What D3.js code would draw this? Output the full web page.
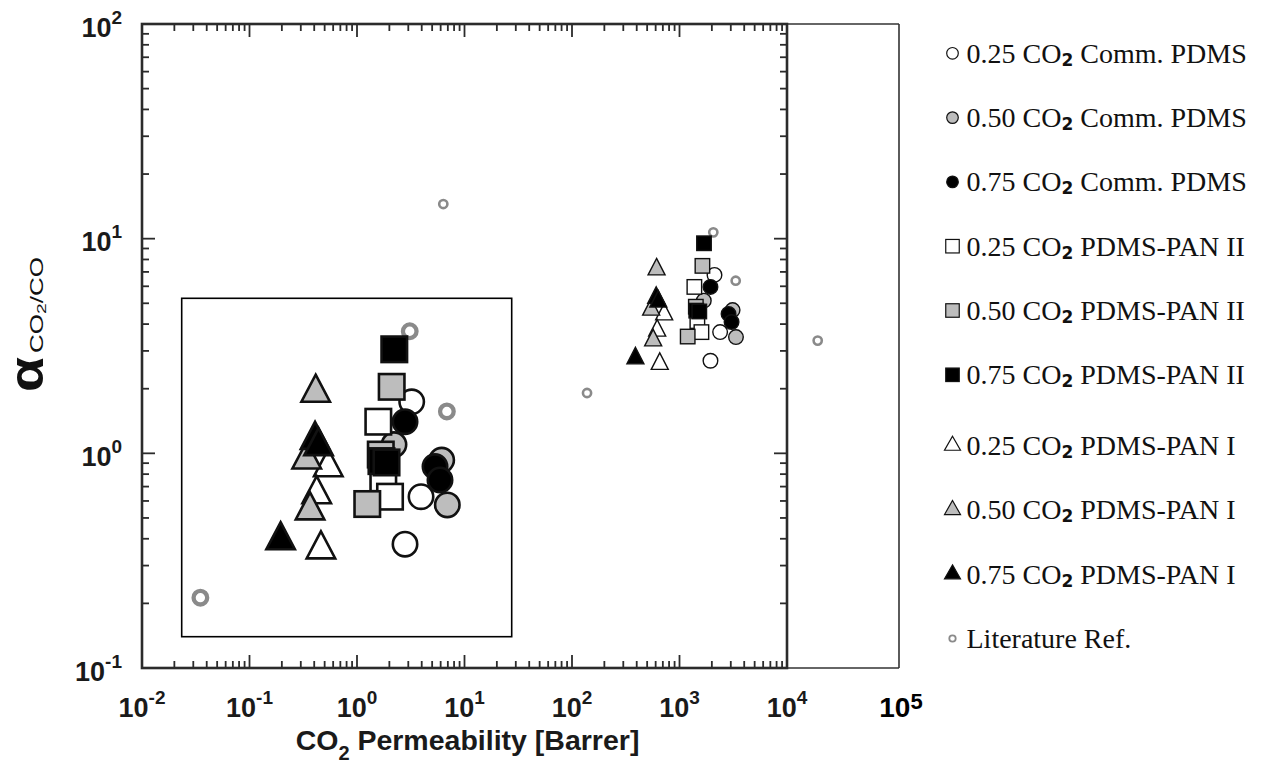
<!DOCTYPE html>
<html>
<head>
<meta charset="utf-8">
<script src="https://cdn.jsdelivr.net/npm/d3@7"></script>
<style>
  html, body { margin: 0; padding: 0; background: #fff; }
  svg { display: block; }
</style>
</head>
<body>
<svg id="chart" width="1265" height="771"></svg>
<script>
// ---- Data: CO2 permeability [Barrer] and CO2/CO selectivity ----
const comm025X = [2116, 2387, 1941];
const comm025Y = [6.78, 3.67, 2.70];
const comm050X = [1683, 3118, 3352];
const comm050Y = [5.14, 4.65, 3.48];
const comm075X = [1941, 2860, 3050];
const comm075Y = [5.96, 4.46, 4.09];
const panII025X = [1375, 1466, 1599];
const panII025Y = [5.96, 4.13, 3.67];
const panII050X = [1634, 1419, 1192];
const panII050Y = [7.47, 4.82, 3.50];
const panII075X = [1690, 1432, 1528];
const panII075Y = [9.52, 4.62, 4.58];
const panI025X = [720, 620, 655];
const panI025Y = [4.44, 3.73, 2.61];
const panI050X = [612, 545, 569];
const panI050Y = [7.19, 4.67, 3.36];
const panI075X = [607, 635, 389];
const panI075Y = [5.30, 5.09, 2.77];
const litX = [6.35, 138, 2063, 3333, 19300];
const litY = [14.5, 1.91, 10.7, 6.37, 3.35];

// legend text is split around the CO2 subscript
const seriesPrefix = ["0.25 CO", "0.50 CO", "0.75 CO", "0.25 CO", "0.50 CO", "0.75 CO", "0.25 CO", "0.50 CO", "0.75 CO", "Literature Ref."];
const seriesSuffix = [" Comm. PDMS", " Comm. PDMS", " Comm. PDMS",
  " PDMS-PAN II", " PDMS-PAN II", " PDMS-PAN II",
  " PDMS-PAN I", " PDMS-PAN I", " PDMS-PAN I", ""];
const seriesShapes = ["circle","circle","circle","square","square","square","triangle","triangle","triangle","ring"];
const seriesTones = ["open","gray","black","open","gray","black","open","gray","black","lit"];
const seriesX = [comm025X, comm050X, comm075X, panII025X, panII050X, panII075X, panI025X, panI050X, panI075X, litX];
const seriesY = [comm025Y, comm050Y, comm075Y, panII025Y, panII050Y, panII075Y, panI025Y, panI050Y, panI075Y, litY];

// axis decades
const xDecades = [-2, -1, 0, 1, 2, 3, 4];
const yDecades = [-1, 0, 1, 2];

// zoomed view window (permeability, selectivity)
const zoomXDomain = [108.4, 7702];
const zoomYDomain = [1.484, 13.24];

// ---- Styling ----
const toneFill = { open: "#ffffff", gray: "#bdbdbd", black: "#000000" };
const ink = "#111";
const litColor = "#8a8a8a";
const axisColor = "#2b2b2b";

const svg = d3.select("#chart");

// ---- Scales ----
const x = d3.scaleLog().domain([1e-2, 1e4]).range([142, 787]);
const y = d3.scaleLog().domain([1e-1, 1e2]).range([668, 24]);
const zx = d3.scaleLog().domain(zoomXDomain).range([181.7, 511.7]);
const zy = d3.scaleLog().domain(zoomYDomain).range([636.7, 298.3]);

// ---- Marker painter ----
function drawMarker(g, shape, tone, cx, cy, s) {
  if (shape === "ring") {
    g.append("circle").attr("cx", cx).attr("cy", cy).attr("r", s.ringR)
      .attr("fill", "none").attr("stroke", litColor).attr("stroke-width", s.ringW);
    return;
  }
  const fill = toneFill[tone];
  if (shape === "circle") {
    g.append("circle").attr("cx", cx).attr("cy", cy).attr("r", s.r)
      .attr("fill", fill).attr("stroke", ink).attr("stroke-width", s.sw);
  } else if (shape === "square") {
    g.append("rect").attr("x", cx - s.sq / 2).attr("y", cy - s.sq / 2)
      .attr("width", s.sq).attr("height", s.sq)
      .attr("fill", fill).attr("stroke", ink).attr("stroke-width", s.sw);
  } else if (shape === "triangle") {
    const p = d3.path();
    p.moveTo(cx, cy - 2 * s.th / 3);
    p.lineTo(cx + s.tw / 2, cy + s.th / 3);
    p.lineTo(cx - s.tw / 2, cy + s.th / 3);
    p.closePath();
    g.append("path").attr("d", p.toString())
      .attr("fill", fill).attr("stroke", ink).attr("stroke-width", s.sw)
      .attr("stroke-linejoin", "miter");
  }
}

const mainSize = { sq: 14.5, r: 7.3, tw: 17, th: 16.5, sw: 1.4, ringR: 4.1, ringW: 2.6 };
const zoomSize = { sq: 25.5, r: 12.2, tw: 28.5, th: 27, sw: 2.6, ringR: 6.8, ringW: 4.3 };
const legendSize = { sq: 13.5, r: 5.8, tw: 16, th: 14, sw: 1.2, ringR: 3.2, ringW: 1.8 };

// ---- Frame extension to 10^5 ----
const xRightEdge = x(1e4) + (x(1e4) - x(1e3)) + 4.5;
const frame = svg.append("g").attr("stroke", "#333").attr("stroke-width", 1.6).attr("fill", "none");
frame.append("line").attr("x1", x(1e4)).attr("x2", xRightEdge).attr("y1", y(1e2)).attr("y2", y(1e2));
frame.append("line").attr("x1", xRightEdge).attr("x2", xRightEdge).attr("y1", y(1e2)).attr("y2", y(1e-1));
frame.append("line").attr("x1", x(1e4)).attr("x2", xRightEdge).attr("y1", y(1e-1)).attr("y2", y(1e-1));

// ---- Ticks (inward) ----
const isMajor = v => Math.abs(Math.log10(v) - Math.round(Math.log10(v))) < 1e-6;
const tickG = svg.append("g").attr("stroke", axisColor).attr("stroke-width", 1.8);
x.ticks().forEach(v => {
  if (v <= 1e-2 * 1.0001 || v >= 1e4 * 0.9999) return;
  const len = isMajor(v) ? 13 : 7;
  const px = x(v);
  tickG.append("line").attr("x1", px).attr("x2", px).attr("y1", y(1e-1)).attr("y2", y(1e-1) - len);
  tickG.append("line").attr("x1", px).attr("x2", px).attr("y1", y(1e2)).attr("y2", y(1e2) + len);
});
y.ticks().forEach(v => {
  if (v <= 1e-1 * 1.0001 || v >= 1e2 * 0.9999) return;
  const len = isMajor(v) ? 13 : 7;
  const py = y(v);
  tickG.append("line").attr("x1", x(1e-2)).attr("x2", x(1e-2) + len).attr("y1", py).attr("y2", py);
  tickG.append("line").attr("x1", x(1e4)).attr("x2", x(1e4) - len).attr("y1", py).attr("y2", py);
});

// ---- Axis box ----
svg.append("rect")
  .attr("x", x(1e-2)).attr("y", y(1e2))
  .attr("width", x(1e4) - x(1e-2)).attr("height", y(1e-1) - y(1e2))
  .attr("fill", "none").attr("stroke", axisColor).attr("stroke-width", 2.6);

// ---- Tick labels ----
const labelFont = "'Liberation Sans', Arial, Helvetica, sans-serif";
const xl = svg.append("g").attr("font-family", labelFont).attr("font-weight", "bold")
  .attr("fill", "#1a1a1a");
xDecades.forEach(e => {
  const t = xl.append("text").attr("x", x(Math.pow(10, e))).attr("y", 717)
    .attr("text-anchor", "middle").attr("font-size", 27);
  t.append("tspan").text("10");
  t.append("tspan").attr("font-size", 19).attr("dy", -13).text(String(e));
});
// 10^5 label at the extended frame edge
{
  const t = svg.append("text").attr("x", xRightEdge + 2).attr("y", 717)
    .attr("text-anchor", "middle").attr("font-family", labelFont).attr("font-weight", "bold")
    .attr("font-size", 28).attr("fill", "#000");
  t.append("tspan").text("10");
  t.append("tspan").attr("font-size", 22).attr("dy", -8).text("5");
}
const yl = svg.append("g").attr("font-family", labelFont).attr("font-weight", "bold")
  .attr("fill", "#1a1a1a");
yDecades.forEach(e => {
  const t = yl.append("text").attr("x", 122).attr("y", y(Math.pow(10, e)) + 12.5)
    .attr("text-anchor", "end").attr("font-size", 27);
  t.append("tspan").text("10");
  t.append("tspan").attr("font-size", 19).attr("dy", -13).text(String(e));
});

// ---- Axis titles ----
{
  const t = svg.append("text").attr("x", 467.5).attr("y", 750)
    .attr("text-anchor", "middle").attr("font-family", labelFont).attr("font-weight", "bold")
    .attr("font-size", 28.5).attr("fill", "#1a1a1a");
  t.append("tspan").text("CO");
  t.append("tspan").attr("font-size", 20).attr("dy", 10).text("2");
  t.append("tspan").attr("dy", -10).text(" Permeability [Barrer]");
}
{
  const g = svg.append("g").attr("transform", "translate(43,324.5) rotate(-90)");
  g.append("text").attr("x", -67.5).attr("y", 0)
    .attr("font-family", labelFont).attr("font-weight", "bold").attr("font-size", 48)
    .attr("textLength", 35).attr("lengthAdjust", "spacingAndGlyphs")
    .attr("fill", "#111").text("α");
  const s = g.append("text").attr("x", -28.5).attr("y", 0)
    .attr("font-family", labelFont).attr("font-size", 17.5)
    .attr("textLength", 96).attr("lengthAdjust", "spacingAndGlyphs").attr("fill", "#111");
  s.append("tspan").text("CO");
  s.append("tspan").attr("font-size", 13).attr("dy", 3).text("2");
  s.append("tspan").attr("dy", -3).text("/CO");
}

// ---- Main scatter (literature refs underneath) ----
const mainG = svg.append("g");
const drawOrder = [9, 0, 1, 2, 3, 4, 5, 6, 7, 8];
drawOrder.forEach(i => {
  seriesX[i].forEach((xv, k) => {
    drawMarker(mainG, seriesShapes[i], seriesTones[i], x(xv), y(seriesY[i][k]), mainSize);
  });
});

// ---- Enlarged view of the membrane cluster ----
svg.append("defs").append("clipPath").attr("id", "zoomClip")
  .append("rect").attr("x", 181.7).attr("y", 298.3).attr("width", 330).attr("height", 338.4);
svg.append("rect").attr("x", 181.7).attr("y", 298.3).attr("width", 330).attr("height", 338.4)
  .attr("fill", "#fff");
const zoomG = svg.append("g").attr("clip-path", "url(#zoomClip)");
drawOrder.forEach(i => {
  seriesX[i].forEach((xv, k) => {
    drawMarker(zoomG, seriesShapes[i], seriesTones[i], zx(xv), zy(seriesY[i][k]), zoomSize);
  });
});
svg.append("rect").attr("x", 181.7).attr("y", 298.3).attr("width", 330).attr("height", 338.4)
  .attr("fill", "none").attr("stroke", "#000").attr("stroke-width", 1.6);

// ---- Legend ----
const legendG = svg.append("g");
seriesPrefix.forEach((prefix, i) => {
  const cy = 53.3 + i * 64.3 + (i >= 6 ? 6.5 : 0);
  drawMarker(legendG, seriesShapes[i], seriesTones[i], 952.5, cy, legendSize);
  const t = legendG.append("text").attr("x", 966.5).attr("y", cy + 9.5)
    .attr("font-family", "'Liberation Serif', 'Times New Roman', serif")
    .attr("font-size", 28).attr("fill", "#111");
  t.append("tspan").text(prefix);
  if (seriesSuffix[i] !== "") {
    t.append("tspan").attr("font-family", "'DejaVu Sans', sans-serif").attr("font-weight", "bold")
      .attr("font-size", 17).attr("dy", 3).text("2");
    t.append("tspan").attr("dy", -3).text(seriesSuffix[i]);
  }
});
</script>
</body>
</html>
